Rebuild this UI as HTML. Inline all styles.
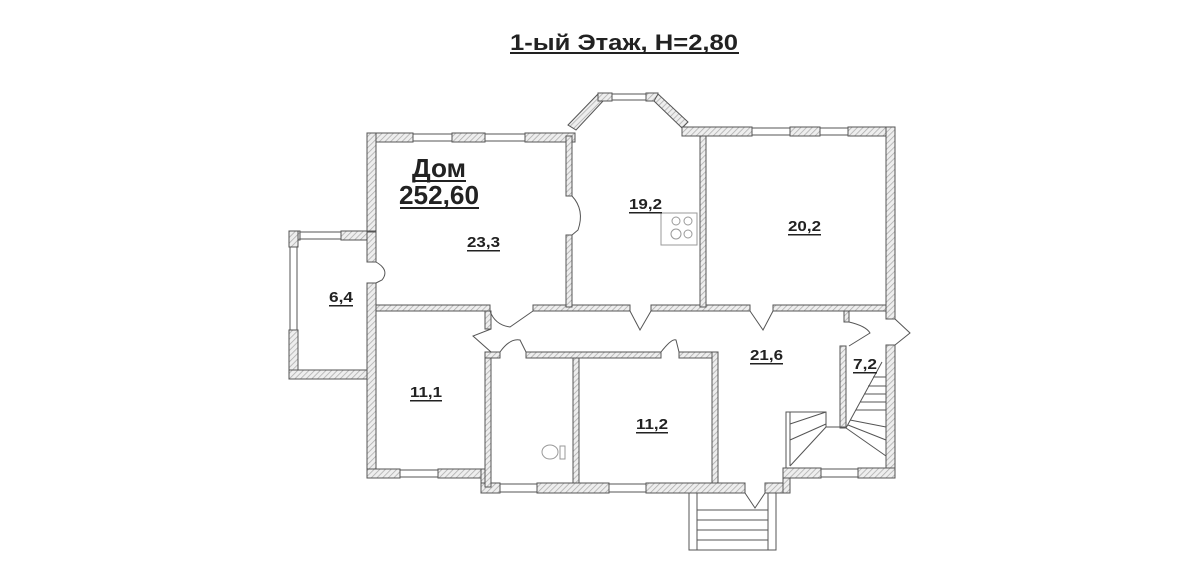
<!DOCTYPE html>
<html><head><meta charset="utf-8"><style>
html,body{margin:0;padding:0;background:#fff;width:1200px;height:577px;overflow:hidden}
svg{display:block}
text{font-family:"Liberation Sans",sans-serif;font-weight:bold;fill:#222}
</style></head><body>
<svg width="1200" height="577" viewBox="0 0 1200 577">
<defs>
<pattern id="h" width="4" height="4" patternUnits="userSpaceOnUse" patternTransform="rotate(45)">
<rect width="4" height="4" fill="#eee"/><line x1="0" y1="0" x2="0" y2="4" stroke="#aaa" stroke-width="1.5"/>
</pattern>
</defs>
<g fill="url(#h)" stroke="#555" stroke-width="1">
<rect x="367" y="133" width="46" height="9"/>
<rect x="452" y="133" width="33" height="9"/>
<rect x="525" y="133" width="50" height="9"/>
<rect x="367" y="133" width="9" height="100"/>
<polygon points="568,125 598,94 604,100 576,130"/>
<rect x="598" y="93" width="14" height="8"/>
<rect x="646" y="93" width="12" height="8"/>
<polygon points="658,94 688,122 682,128 654,101"/>
<rect x="682" y="127" width="70" height="9"/>
<rect x="790" y="127" width="30" height="9"/>
<rect x="848" y="127" width="47" height="9"/>
<rect x="886" y="127" width="9" height="192"/>
<rect x="886" y="345" width="9" height="133"/>
<rect x="289" y="231" width="11" height="9"/>
<rect x="341" y="231" width="35" height="9"/>
<rect x="289" y="231" width="9" height="16"/>
<rect x="289" y="330" width="9" height="48"/>
<rect x="289" y="370" width="87" height="9"/>
<rect x="367" y="232" width="9" height="30"/>
<rect x="367" y="283" width="9" height="195"/>
<rect x="367" y="469" width="33" height="9"/>
<rect x="438" y="469" width="52" height="9"/>
<rect x="481" y="469" width="9" height="24"/>
<rect x="481" y="483" width="19" height="10"/>
<rect x="537" y="483" width="72" height="10"/>
<rect x="646" y="483" width="99" height="10"/>
<rect x="765" y="483" width="25" height="10"/>
<rect x="783" y="468" width="7" height="25"/>
<rect x="783" y="468" width="38" height="10"/>
<rect x="858" y="468" width="37" height="10"/>
<rect x="376" y="305" width="114" height="6"/>
<rect x="533" y="305" width="97" height="6"/>
<rect x="651" y="305" width="99" height="6"/>
<rect x="773" y="305" width="113" height="6"/>
<rect x="566" y="136" width="6" height="60"/>
<rect x="566" y="235" width="6" height="72"/>
<rect x="700" y="136" width="6" height="171"/>
<rect x="485" y="311" width="6" height="18"/>
<rect x="485" y="352" width="6" height="135"/>
<rect x="485" y="352" width="15" height="6"/>
<rect x="526" y="352" width="135" height="6"/>
<rect x="679" y="352" width="38" height="6"/>
<rect x="573" y="358" width="6" height="125"/>
<rect x="712" y="352" width="6" height="131"/>
<rect x="844" y="311" width="5" height="11"/>
<rect x="840" y="346" width="6" height="82"/>
</g>
<g stroke="#555" stroke-width="1" fill="none">
<path d="M413 134H452M413 141H452M485 134H525M485 141H525M612 94H646M612 100H646M752 128H790M752 135H790M820 128H848M820 135H848M300 232H341M300 239H341M290 247V330M297 247V330M400 470H438M400 477H438M500 484H537M500 492H537M609 484H646M609 492H646M821 469H858M821 477H858"/>
<path d="M572 196 Q585 210 578 230 L572 235"/>
<path d="M376 262 Q390 270 382 280 L376 283"/>
<path d="M490 311 Q495 325 510 327 L533 311"/>
<path d="M630 311 L640 330 L651 311"/>
<path d="M750 311 L763 330 L773 311"/>
<path d="M849 322 Q866 326 870 333 L849 346"/>
<path d="M895 319 L910 333 L895 345"/>
<path d="M491 329 L473 336 L491 352"/>
<path d="M500 352 Q510 338 520 340 L526 352"/>
<path d="M661 352 Q672 338 676 340 L679 352"/>
<path d="M745 493 L755 508 L765 493"/>
<path d="M689 493V550H776V493M697 493V550M768 493V550M697 510H768M697 520H768M697 530H768M697 540H768"/>
<!-- stairs -->
<path d="M786 468V412H826V427L790 466M790 412V466M790 424L826 412M790 440L826 424M826 427H846M846 428L882 362M856 410H886M860 402H886M864 394H886M868 386H886M873 377H886M850 420L886 427M848 425L886 440M846 428L886 456"/>
<rect x="661" y="213" width="36" height="32" stroke="#999"/>
<circle cx="676" cy="221" r="4" stroke="#999"/><circle cx="688" cy="221" r="4" stroke="#999"/>
<circle cx="676" cy="234" r="5" stroke="#999"/><circle cx="688" cy="234" r="4" stroke="#999"/>
<ellipse cx="550" cy="452" rx="8" ry="7" stroke="#999"/><rect x="560" y="446" width="5" height="13" stroke="#999"/>
</g>
<text x="510" y="50" font-size="22" textLength="228" lengthAdjust="spacingAndGlyphs">1-ый Этаж, Н=2,80</text>
<rect x="510" y="52" width="229" height="2" fill="#222"/>
<text x="412" y="177" font-size="26" textLength="54" lengthAdjust="spacingAndGlyphs">Дом</text>
<rect x="413" y="180" width="53" height="2" fill="#222"/>
<text x="399" y="204" font-size="26" textLength="80" lengthAdjust="spacingAndGlyphs">252,60</text>
<rect x="400" y="207" width="79" height="2" fill="#222"/>
<g font-size="15">
<text x="467" y="247" textLength="33" lengthAdjust="spacingAndGlyphs">23,3</text><rect x="467" y="250" width="33" height="1.5" fill="#222"/>
<text x="629" y="209" textLength="33" lengthAdjust="spacingAndGlyphs">19,2</text><rect x="629" y="212" width="33" height="1.5" fill="#222"/>
<text x="788" y="231" textLength="33" lengthAdjust="spacingAndGlyphs">20,2</text><rect x="788" y="234" width="33" height="1.5" fill="#222"/>
<text x="329" y="302" textLength="24" lengthAdjust="spacingAndGlyphs">6,4</text><rect x="329" y="305" width="24" height="1.5" fill="#222"/>
<text x="410" y="397" textLength="32" lengthAdjust="spacingAndGlyphs">11,1</text><rect x="410" y="400" width="32" height="1.5" fill="#222"/>
<text x="636" y="429" textLength="32" lengthAdjust="spacingAndGlyphs">11,2</text><rect x="636" y="432" width="32" height="1.5" fill="#222"/>
<text x="750" y="360" textLength="33" lengthAdjust="spacingAndGlyphs">21,6</text><rect x="750" y="363" width="33" height="1.5" fill="#222"/>
<text x="853" y="369" textLength="24" lengthAdjust="spacingAndGlyphs">7,2</text><rect x="853" y="372" width="24" height="1.5" fill="#222"/>
</g>
</svg>
</body></html>
